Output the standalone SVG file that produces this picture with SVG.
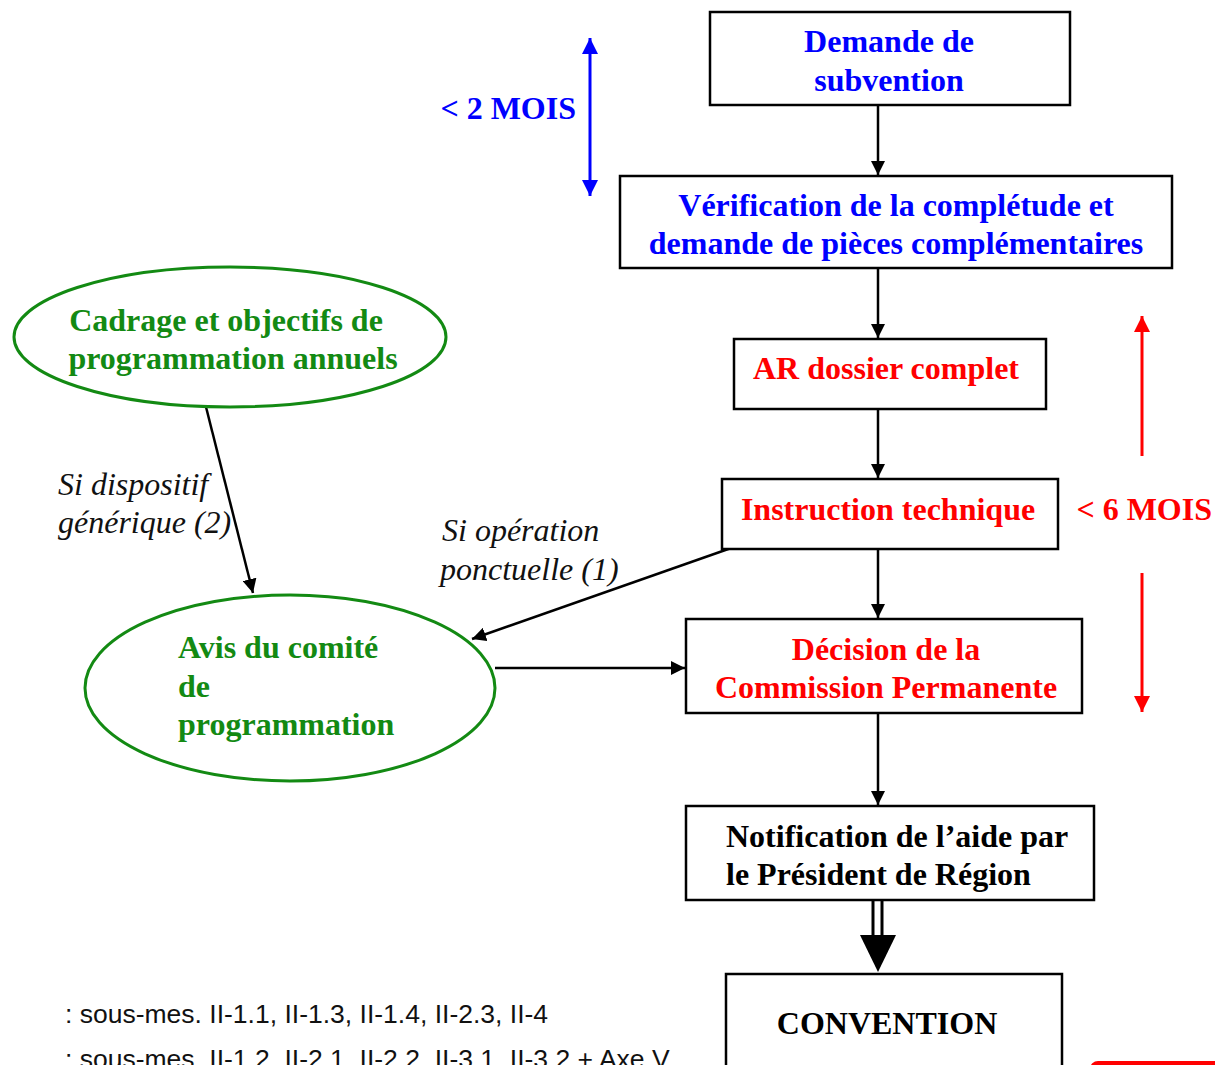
<svg xmlns="http://www.w3.org/2000/svg" width="1215" height="1065" viewBox="0 0 1215 1065">
<style>
.box{fill:#fff;stroke:#000;stroke-width:2.5}
.ell{fill:#fff;stroke:#138a13;stroke-width:3}
.t{font-family:"Liberation Serif","Times New Roman",serif;font-weight:bold;font-size:32px}
.blue{fill:#0000ff}
.red{fill:#ff0000}
.green{fill:#138a13}
.blk{fill:#000}
.it{font-family:"Liberation Serif","Times New Roman",serif;font-style:italic;font-size:32px;fill:#111}
.leg{font-family:"Liberation Sans",Arial,sans-serif;font-size:26.5px;fill:#111}
.c{stroke:#000;stroke-width:2.5;fill:none}
</style>
<defs>
<marker id="ahk" viewBox="0 0 10 10" refX="10" refY="5" markerWidth="14" markerHeight="14" markerUnits="userSpaceOnUse" orient="auto">
<path d="M0,0 L10,5 L0,10 z" fill="#000"/>
</marker>
<marker id="ahb" viewBox="0 0 10 10" refX="10" refY="5" markerWidth="16" markerHeight="16" markerUnits="userSpaceOnUse" orient="auto-start-reverse">
<path d="M0,0 L10,5 L0,10 z" fill="#0000ff"/>
</marker>
<marker id="ahr" viewBox="0 0 10 10" refX="10" refY="5" markerWidth="16" markerHeight="16" markerUnits="userSpaceOnUse" orient="auto">
<path d="M0,0 L10,5 L0,10 z" fill="#ff0000"/>
</marker>
</defs>

<g id="connectors">
<line class="c" x1="878" y1="105" x2="878" y2="175" marker-end="url(#ahk)"/>
<line class="c" x1="878" y1="268" x2="878" y2="338" marker-end="url(#ahk)"/>
<line class="c" x1="878" y1="409" x2="878" y2="478" marker-end="url(#ahk)"/>
<line class="c" x1="878" y1="549" x2="878" y2="618" marker-end="url(#ahk)"/>
<line class="c" x1="878" y1="713" x2="878" y2="805" marker-end="url(#ahk)"/>
<line class="c" x1="206" y1="407" x2="253" y2="593" marker-end="url(#ahk)"/>
<line class="c" x1="734" y1="547" x2="472" y2="639" marker-end="url(#ahk)"/>
<line class="c" x1="495" y1="668" x2="685" y2="668" marker-end="url(#ahk)"/>
<g id="double-arrow">
<line x1="873" y1="900" x2="873" y2="937" stroke="#000" stroke-width="3"/>
<line x1="882" y1="900" x2="882" y2="937" stroke="#000" stroke-width="3"/>
<path d="M860,935 L896,935 L878,972 z" fill="#000"/>
</g>
<line x1="590" y1="38" x2="590" y2="196" stroke="#0000ff" stroke-width="3" marker-start="url(#ahb)" marker-end="url(#ahb)"/>
<line x1="1142" y1="456" x2="1142" y2="316" stroke="#ff0000" stroke-width="3" marker-end="url(#ahr)"/>
<line x1="1142" y1="573" x2="1142" y2="712" stroke="#ff0000" stroke-width="3" marker-end="url(#ahr)"/>
</g>

<g id="n-demande">
<rect class="box" x="710" y="12" width="360" height="93"/>
<text class="t blue" x="889" y="52" text-anchor="middle">Demande de</text>
<text class="t blue" x="889" y="91" text-anchor="middle">subvention</text>
</g>
<g id="n-verification">
<rect class="box" x="620" y="176" width="552" height="92"/>
<text class="t blue" x="896" y="216" text-anchor="middle">Vérification de la complétude et</text>
<text class="t blue" x="896" y="254" text-anchor="middle">demande de pièces complémentaires</text>
</g>
<g id="n-ar">
<rect class="box" x="734" y="339" width="312" height="70"/>
<text class="t red" x="886" y="379" text-anchor="middle">AR dossier complet</text>
</g>
<g id="n-instruction">
<rect class="box" x="722" y="479" width="336" height="70"/>
<text class="t red" x="888" y="520" text-anchor="middle">Instruction technique</text>
</g>
<g id="n-decision">
<rect class="box" x="686" y="619" width="396" height="94"/>
<text class="t red" x="886" y="660" text-anchor="middle">Décision de la</text>
<text class="t red" x="886" y="698" text-anchor="middle">Commission Permanente</text>
</g>
<g id="n-notification">
<rect class="box" x="686" y="806" width="408" height="94"/>
<text class="t blk" x="726" y="847">Notification de l’aide par</text>
<text class="t blk" x="726" y="885">le Président de Région</text>
</g>
<g id="n-convention">
<rect class="box" x="726" y="974" width="336" height="110"/>
<text class="t blk" x="887" y="1034" text-anchor="middle">CONVENTION</text>
</g>
<g id="n-cadrage">
<ellipse class="ell" cx="230" cy="337" rx="216" ry="70"/>
<text class="t green" x="226" y="331" text-anchor="middle">Cadrage et objectifs de</text>
<text class="t green" x="233" y="369" text-anchor="middle">programmation annuels</text>
</g>
<g id="n-avis">
<ellipse class="ell" cx="290" cy="688" rx="205" ry="93"/>
<text class="t green" x="178" y="658">Avis du comité</text>
<text class="t green" x="178" y="697">de</text>
<text class="t green" x="178" y="735">programmation</text>
</g>

<g id="labels">
<text class="t blue" x="576" y="119" text-anchor="end">&lt; 2 MOIS</text>
<text class="t red" x="1212" y="520" text-anchor="end">&lt; 6 MOIS</text>
<text class="it" x="58" y="495">Si dispositif</text>
<text class="it" x="58" y="533">générique (2)</text>
<text class="it" x="442" y="541">Si opération</text>
<text class="it" x="440" y="580">ponctuelle (1)</text>
<text class="leg" x="65" y="1023">: sous-mes. II-1.1, II-1.3, II-1.4, II-2.3, II-4</text>
<text class="leg" x="65" y="1068">: sous-mes. II-1.2, II-2.1, II-2.2, II-3.1, II-3.2 + Axe V</text>
</g>
<rect x="1090" y="1061" width="140" height="20" rx="8" fill="#ff0000"/>
</svg>
